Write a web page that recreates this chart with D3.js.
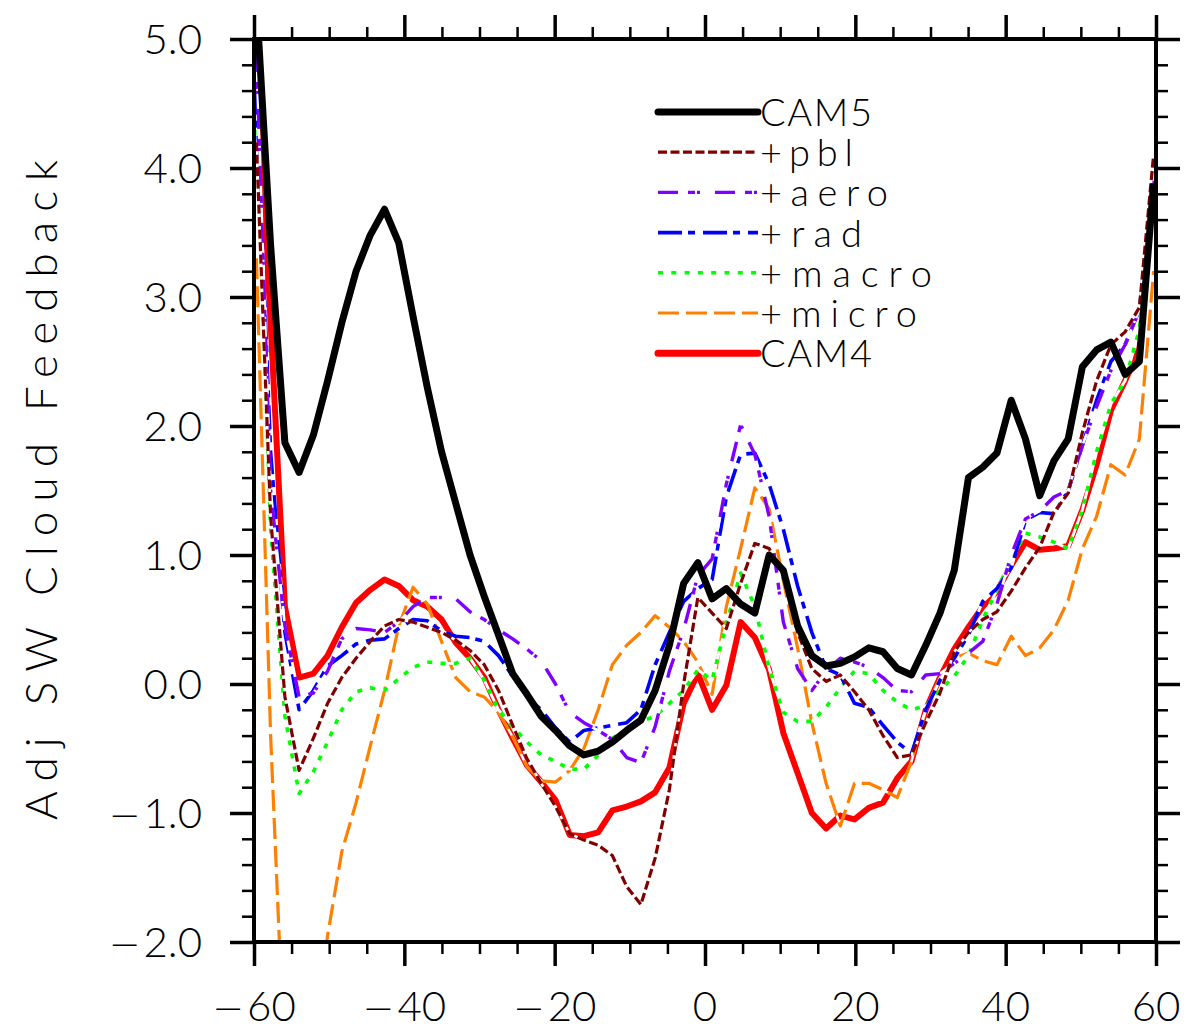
<!DOCTYPE html>
<html><head><meta charset="utf-8">
<script src="https://cdn.jsdelivr.net/npm/d3@7"></script>
<style>
html,body{margin:0;padding:0;background:#fff;}
text{font-family:Lato,"Open Sans",Roboto,sans-serif;font-weight:300;fill:#000;}
tspan.minus{font-family:"DejaVu Sans",sans-serif;font-weight:200;}
</style></head><body>
<svg id="chart" width="1187" height="1031"></svg>
<script>
// ---------- data ----------
const lats = [-59.68,-57.79,-55.89,-54.00,-52.10,-50.21,-48.32,-46.42,-44.53,-42.63,-40.74,-38.84,-36.95,-35.05,-33.16,-31.26,
  -29.37,-27.47,-25.58,-23.68,-21.79,-19.89,-18.00,-16.11,-14.21,-12.32,-10.42,-8.53,-6.63,-4.74,-2.84,-0.95,
  0.95,2.84,4.74,6.63,8.53,10.42,12.32,14.21,16.11,18.00,19.89,21.79,23.68,25.58,27.47,29.37,
  31.26,33.16,35.05,36.95,38.84,40.74,42.63,44.53,46.42,48.32,50.21,52.10,54.00,55.89,57.79,59.68];

const cam5 = [5.3,3.4,1.87,1.64,1.93,2.35,2.8,3.2,3.48,3.68,3.42,2.85,2.3,1.8,1.4,1.0,
  0.68,0.38,0.08,-0.08,-0.25,-0.36,-0.48,-0.55,-0.52,-0.45,-0.36,-0.28,-0.05,0.3,0.78,0.94,
  0.66,0.74,0.62,0.55,1.0,0.88,0.45,0.22,0.14,0.16,0.21,0.28,0.25,0.12,0.07,0.3,
  0.55,0.88,1.6,1.68,1.79,2.2,1.9,1.46,1.73,1.9,2.46,2.59,2.65,2.4,2.5,3.88];

const pbl = [4.2,1.3,-0.1,-0.67,-0.42,-0.15,0.05,0.2,0.33,0.45,0.5,0.48,0.44,0.4,0.34,0.26,
  0.15,-0.05,-0.32,-0.58,-0.77,-0.95,-1.16,-1.21,-1.25,-1.33,-1.57,-1.71,-1.35,-0.82,0.0,0.67,
  0.55,0.43,0.78,1.09,1.05,0.85,0.4,0.12,0.02,0.07,-0.06,-0.2,-0.4,-0.57,-0.55,-0.3,
  -0.07,0.25,0.4,0.5,0.56,0.72,0.9,1.06,1.33,1.48,1.95,2.35,2.63,2.73,2.92,4.1];

const aero = [4.9,1.5,0.45,-0.1,-0.07,0.1,0.35,0.43,0.42,0.4,0.48,0.6,0.67,0.67,0.66,0.56,
  0.5,0.42,0.35,0.27,0.18,0.0,-0.22,-0.3,-0.36,-0.43,-0.57,-0.61,-0.33,0.1,0.42,0.84,
  0.97,1.55,2.01,1.78,1.3,0.48,0.12,-0.05,0.1,0.2,0.17,0.13,0.05,-0.05,-0.06,0.07,
  0.08,0.16,0.24,0.33,0.62,1.0,1.28,1.34,1.45,1.5,1.85,2.15,2.43,2.63,2.9,3.9];

const rad = [4.6,1.8,0.4,-0.2,-0.05,0.14,0.22,0.31,0.34,0.35,0.43,0.5,0.49,0.41,0.37,0.36,
  0.33,0.22,0.06,-0.1,-0.2,-0.34,-0.45,-0.36,-0.34,-0.32,-0.3,-0.2,0.15,0.4,0.64,0.74,
  0.81,1.45,1.78,1.79,1.55,1.2,0.76,0.4,0.12,0.07,-0.15,-0.18,-0.32,-0.45,-0.54,-0.2,
  0.03,0.2,0.38,0.64,0.74,0.9,1.27,1.33,1.32,1.5,1.85,2.2,2.5,2.63,2.9,3.9];

const macro = [4.4,1.2,-0.25,-0.85,-0.68,-0.45,-0.2,-0.06,-0.03,-0.05,0.04,0.13,0.17,0.16,0.16,0.2,
  0.03,-0.2,-0.33,-0.45,-0.55,-0.6,-0.66,-0.66,-0.55,-0.42,-0.35,-0.29,-0.25,-0.15,-0.05,0.11,
  0.03,0.47,0.86,0.6,0.12,-0.22,-0.29,-0.29,-0.18,-0.03,0.1,0.08,-0.05,-0.14,-0.2,-0.17,
  -0.05,0.06,0.22,0.5,0.73,0.96,1.17,1.14,1.1,1.05,1.35,1.8,2.17,2.35,2.75,3.85];

const micro = [3.3,-0.4,-3.0,-3.5,-2.8,-1.95,-1.3,-0.92,-0.48,-0.05,0.45,0.75,0.62,0.33,0.05,-0.06,
  -0.1,-0.22,-0.41,-0.64,-0.75,-0.76,-0.67,-0.5,-0.2,0.15,0.3,0.4,0.53,0.44,0.33,0.17,
  -0.08,0.6,1.05,1.52,1.36,0.8,0.28,-0.3,-0.77,-1.1,-0.77,-0.77,-0.82,-0.88,-0.6,-0.2,
  0.05,0.2,0.24,0.18,0.15,0.37,0.22,0.28,0.42,0.65,1.05,1.3,1.7,1.62,1.9,3.2];

const cam4 = [5.0,2.8,0.6,0.05,0.08,0.22,0.44,0.63,0.73,0.81,0.76,0.65,0.6,0.5,0.32,0.2,
  0.05,-0.2,-0.42,-0.63,-0.76,-0.9,-1.17,-1.18,-1.15,-0.98,-0.95,-0.91,-0.84,-0.65,-0.15,0.08,
  -0.2,-0.01,0.48,0.36,0.11,-0.38,-0.69,-1.0,-1.12,-1.02,-1.05,-0.96,-0.92,-0.73,-0.6,-0.2,
  0.05,0.27,0.44,0.6,0.72,0.92,1.1,1.04,1.05,1.07,1.35,1.7,2.12,2.35,2.6,3.9];

const seriesNames = ["CAM5","+pbl","+aero","+rad","+macro","+micro","CAM4"];
const seriesValues = [cam5, pbl, aero, rad, macro, micro, cam4];
const xTickValues = [-60,-40,-20,0,20,40,60];
const xTickLabels = ["\u221260","\u221240","\u221220","0","20","40","60"];
const yTickValues = [-2,-1,0,1,2,3,4,5];
const yTickLabels = ["\u22122.0","\u22121.0","0.0","1.0","2.0","3.0","4.0","5.0"];
const yTitle = "Adj SW Cloud Feedback";

// ---------- styles (not data) ----------
const styles = [
  {color:"#000000", width:7,   dash:null},
  {color:"#800000", width:3.2, dash:"9,3.5"},
  {color:"#8000ff", width:3.4, dash:"20,10,7,2,3,15"},
  {color:"#0000ff", width:3.6, dash:"24,6,7,8"},
  {color:"#00ff00", width:3.6, dash:"5,8.3"},
  {color:"#ff8000", width:3.2, dash:"21,7"},
  {color:"#ff0000", width:6,   dash:null}
];
const drawOrder = [6,5,4,3,2,1,0];
const legendTextLen = [112, 93, 128, 102, 172, 157, 112];

// ---------- layout ----------
const L = 254, R = 1156, T = 39, B = 942;
const svg = d3.select("#chart");
const x = d3.scaleLinear().domain([-60, 60]).range([L, R]);
const y = d3.scaleLinear().domain([-2, 5]).range([B, T]);

svg.append("defs").append("clipPath").attr("id","clip")
  .append("rect").attr("x",L).attr("y",T).attr("width",R-L).attr("height",B-T);

// lines
const line = d3.line().x((d,i)=>x(lats[i])).y(d=>y(d));
const gLines = svg.append("g").attr("clip-path","url(#clip)");
drawOrder.forEach(si=>{
  const st = styles[si];
  if (st.dash) {
    gLines.append("path").datum(seriesValues[si]).attr("d", line)
      .attr("fill","none").attr("stroke","#fff").attr("stroke-width", st.width*0.8)
      .attr("stroke-linejoin","round");
  }
  gLines.append("path").datum(seriesValues[si]).attr("d", line)
    .attr("fill","none").attr("stroke", st.color).attr("stroke-width", st.width)
    .attr("stroke-linejoin","round")
    .attr("stroke-dasharray", st.dash);
});

// axes: major and minor ticks on all four sides, all outward
const minorX = d3.range(-60, 60.01, 5).filter(v=>xTickValues.indexOf(v)<0);
const minorY = d3.range(-2, 5.001, 0.2).map(v=>+v.toFixed(1)).filter(v=>Math.abs(v-Math.round(v))>1e-6);
function styleAxis(g, w){ g.select(".domain").remove(); g.selectAll(".tick line").attr("stroke","#000").attr("stroke-width",w); g.selectAll(".tick text").remove(); }
function addAxis(gen, tx, ty, vals, size, w){
  svg.append("g").attr("transform",`translate(${tx},${ty})`)
    .call(gen.tickValues(vals).tickSize(size).tickSizeOuter(0).tickFormat(""))
    .call(g=>styleAxis(g,w));
}
addAxis(d3.axisLeft(y),  L,0, yTickValues, 24, 3.5);
addAxis(d3.axisLeft(y),  L,0, minorY, 12, 2.5);
addAxis(d3.axisRight(y), R,0, yTickValues, 24, 3.5);
addAxis(d3.axisRight(y), R,0, minorY, 12, 2.5);
addAxis(d3.axisBottom(x),0,B, xTickValues, 24, 3.5);
addAxis(d3.axisBottom(x),0,B, minorX, 12, 2.5);
addAxis(d3.axisTop(x),   0,T, xTickValues, 24, 3.5);
addAxis(d3.axisTop(x),   0,T, minorX, 12, 2.5);

// tick labels (long minus sign like the reference)
function fillLabel(t, s, fs){
  if (s[0] === "\u2212") {
    t.append("tspan").attr("class","minus").attr("font-size", 38).text("\u2212");
    t.append("tspan").attr("font-size", fs).attr("dx", 3).text(s.slice(1));
  } else {
    t.append("tspan").attr("font-size", fs).text(s);
  }
}
const gyl = svg.append("g");
yTickValues.forEach((v,i)=>{
  const t = gyl.append("text").attr("x", 202).attr("y", y(v)+15).attr("text-anchor","end");
  fillLabel(t, yTickLabels[i], 42);
});
const gxl = svg.append("g");
xTickValues.forEach((v,i)=>{
  const t = gxl.append("text").attr("x", x(v)).attr("y", 1021).attr("text-anchor","middle");
  fillLabel(t, xTickLabels[i], 42);
});

// frame
svg.append("rect").attr("x",L).attr("y",T).attr("width",R-L).attr("height",B-T)
  .attr("fill","none").attr("stroke","#000").attr("stroke-width",4);

// y title
svg.append("text").attr("transform","translate(57,490) rotate(-90)")
  .attr("text-anchor","middle").attr("font-size",44)
  .attr("textLength",660).attr("lengthAdjust","spacing").text(yTitle);

// legend
const lgX0 = 658, lgX1 = 758, lgY0 = 112, lgDY = 40.2;
seriesNames.forEach((name,i)=>{
  const st = styles[i];
  const ly = lgY0 + i*lgDY;
  if (st.dash) {
    svg.append("line").attr("x1",lgX0).attr("x2",lgX1).attr("y1",ly).attr("y2",ly)
      .attr("stroke","#fff").attr("stroke-width",st.width*0.8);
  }
  svg.append("line").attr("x1",lgX0).attr("x2",lgX1).attr("y1",ly).attr("y2",ly)
    .attr("stroke",st.color).attr("stroke-width",st.dash?st.width:7)
    .attr("stroke-linecap", st.dash?"butt":"round")
    .attr("stroke-dasharray",st.dash);
  svg.append("text").attr("x",lgX1+2).attr("y",ly+14).attr("font-size",38)
    .attr("textLength",legendTextLen[i]).attr("lengthAdjust","spacing").text(name);
});
</script>
</body></html>
